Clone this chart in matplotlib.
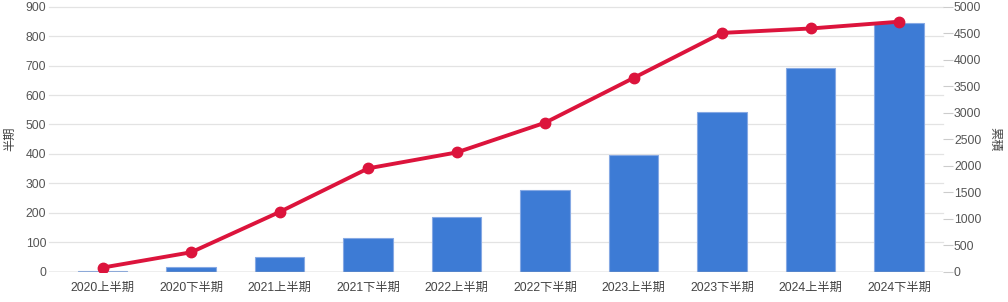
import matplotlib
matplotlib.use("Agg")
import matplotlib.pyplot as plt
import matplotlib.transforms as mtransforms
import numpy as np

plt.rcParams['font.family'] = ['Liberation Sans', 'Noto Sans CJK JP']

periods = ['2020上半期', '2020下半期', '2021上半期', '2021下半期', '2022上半期',
           '2022下半期', '2023上半期', '2023下半期', '2024上半期', '2024下半期']
half_counts = [14, 66, 203, 351, 405, 506, 658, 811, 826, 849]
cumulative = [14, 80, 283, 634, 1039, 1545, 2203, 3010, 3840, 4690]

left_ticks = list(range(0, 901, 100))
right_ticks = list(range(0, 5001, 500))

fig = plt.figure(figsize=(10.08, 3.02), dpi=100)
ax_bar = fig.add_axes([49 / 1008, 1 - 271.7 / 302, 894.3 / 1008, 265 / 302])
ax_line = ax_bar.twinx()

x = np.arange(len(periods))

# bars (cumulative) -> right scale
ax_bar.bar(x, cumulative, width=0.56, color='#3d7bd5', edgecolor='#86a9e4',
           linewidth=0.8, zorder=2)
ax_bar.set_ylim(0, 5000)
ax_bar.set_xlim(-0.607, 9.5)
ax_bar.yaxis.tick_right()
ax_bar.yaxis.set_label_position('right')
ax_bar.set_yticks(right_ticks)
ax_bar.tick_params(axis='y', direction='out', length=7.2, width=0.8,
                   color='#cccccc', labelcolor='#555555', labelsize=8.8, pad=0.5)
ax_bar.set_xticks(x)
ax_bar.set_xticklabels(periods)
ax_bar.tick_params(axis='x', length=0, labelcolor='#444444', labelsize=8.8, pad=7)
ax_bar.set_ylabel('累積', rotation=270, color='#444444', fontsize=8.8, va='center')
ax_bar.yaxis.set_label_coords(1.057, 0.5)

# line (per half year) -> left scale
ax_line.plot(x, half_counts, color='#dc143c', linewidth=2.8, marker='o',
             markersize=7.5, zorder=5)
ax_line.set_ylim(0, 900)
ax_line.yaxis.tick_left()
ax_line.yaxis.set_label_position('left')
ax_line.set_yticks(left_ticks)
ax_line.tick_params(axis='y', length=0, labelcolor='#555555', labelsize=8.8, pad=2)
ax_line.set_ylabel('半期', rotation=90, color='#444444', fontsize=8.8, va='center')
ax_line.yaxis.set_label_coords(-0.0436, 0.5)

# gridlines follow the left scale, drawn behind bars
trans = mtransforms.blended_transform_factory(ax_bar.transAxes, ax_line.transData)
for v in left_ticks[1:]:
    ax_bar.plot([0, 1], [v, v], transform=trans, color='#e3e3e3',
                linewidth=0.9, zorder=0, clip_on=False)

for a in (ax_bar, ax_line):
    for side in ('top', 'left', 'right', 'bottom'):
        a.spines[side].set_visible(False)
ax_bar.axhline(0, color='#aaaaaa', linewidth=1, zorder=3)

fig.savefig('out.png', dpi=100)
